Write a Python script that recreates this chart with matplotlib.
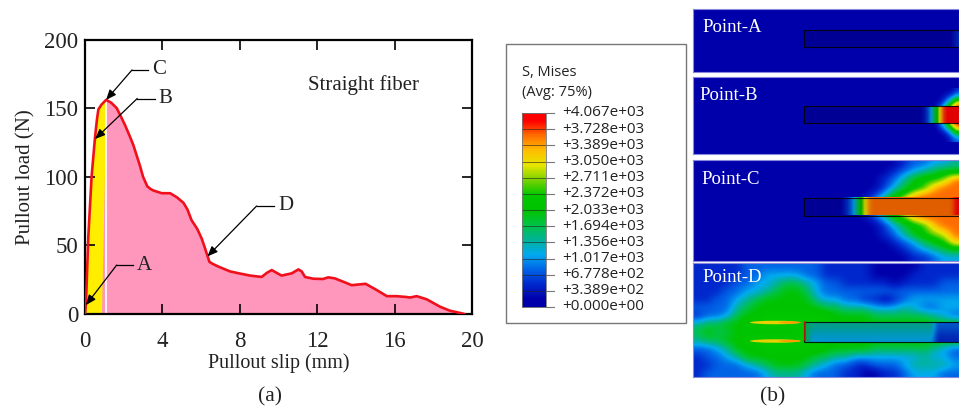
import numpy as np
import matplotlib
matplotlib.use("Agg")
import matplotlib.pyplot as plt
from matplotlib.colors import LinearSegmentedColormap
from matplotlib.patches import Rectangle, Ellipse

W, H = 959, 408
SERIF = "Liberation Serif"

# ---- chart data -------------------------------------------------------
slip = [0, 0.05, 0.17, 0.34, 0.52, 0.62, 0.69, 0.85, 1.09, 1.35, 1.64, 1.85, 2.07, 2.3, 2.5, 2.84, 3.0, 3.22, 3.4, 3.53, 3.97, 4.4,
        4.75, 5.09, 5.3, 5.5, 5.8, 6.03, 6.2, 6.43, 6.6, 6.9, 7.5, 8.0, 8.53, 9.13, 9.4, 9.65, 9.9, 10.16, 10.68, 11.03, 11.2, 11.37,
        11.8, 12.3, 12.57, 12.9, 13.35, 13.78, 14.5, 15.07, 15.6, 16.1, 16.6, 16.8, 17.14, 17.66,
        18.35, 18.86, 19.47, 19.6]
load = [0, 8, 56, 100, 129, 142, 149, 152.5, 156, 154, 150, 144, 137.6, 130, 123, 108, 100, 93, 91, 90, 88, 88,
        85, 81, 76, 68.5, 62, 55, 48, 38, 36.5, 34.5, 31, 29.5, 28, 27, 30, 32, 30, 28, 29.6, 32.5, 31, 27,
        25.7, 25.5, 26.7, 26, 23.5, 21, 22, 17.5, 13, 13, 12.4, 12, 13, 10.7,
        5.3, 2.4, 0.5, 0]
peak_slip = 1.09
x_ticks = [0, 4, 8, 12, 16, 20]
y_ticks = [0, 50, 100, 150, 200]
# label, tip, elbow, end of leader
callouts = [("A", (0.05, 6.5), (1.64, 35.7), (2.5, 35.7)),
            ("B", (0.52, 127.5), (2.7, 157), (3.6, 157)),
            ("C", (1.09, 156), (2.43, 177.8), (3.26, 177.8)),
            ("D", (6.33, 42), (8.87, 78.7), (9.77, 78.7))]

# ---- contour legend ---------------------------------------------------
legend_values = ["+4.067e+03", "+3.728e+03", "+3.389e+03", "+3.050e+03", "+2.711e+03",
                 "+2.372e+03", "+2.033e+03", "+1.694e+03", "+1.356e+03", "+1.017e+03",
                 "+6.778e+02", "+3.389e+02", "+0.000e+00"]
level_colors = [(0, 0, 170), (0, 40, 205), (0, 100, 230), (0, 170, 240), (0, 180, 150), (0, 195, 70),
                (0, 195, 0), (0, 200, 0), (120, 210, 0), (230, 230, 0), (255, 190, 0), (255, 110, 0), (255, 0, 0)]

# ---- stress fields, one base-13 level per character --------------------
field_b = ["00000001", "00000124", "0000136a", "000136bc", "000136cc",
           "000136cc", "0000247b", "00000136", "00000012"]
field_c = ["0000000122334", "0000001234566", "000001246778b", "0000013567abb", "00001367abbbb",
           "0001367bbbbbb", "0001367bbbbbb", "00001367abbbb",
           "0000013567abb", "000001246789b", "000000123567a", "0000000123456", "0000000011233"]
field_d = ["111112222222211111000001111", "111112233332211111000011111",
           "111122334554322111110111122", "111223345665322222222222222",
           "112234566666433221101233333", "222245666666655444333432233",
           "122356677777776666555555432", "455667777777776666666666666",
           "565566666667766666666666666", "455667777777776666666666666",
           "223466677777766666555555432", "122346666666554433333334332",
           "112223456665432211222344443", "122222234443222110011233322"]
strip_a = ["0000000000000000000000000000001"]
strip_b = ["000000000000000000000000136bccc"]
strip_c = ["000000001247abbbbbbbbbbbbbbbbbc"]
strip_d = ["54444444444444444444444444422222", "53333333333333333333333333311111"]

cmap = LinearSegmentedColormap.from_list("mises", [tuple(c / 255 for c in col) for col in level_colors])


def decode(rows):
    return np.array([[int(ch, 13) for ch in row] for row in rows], float)


fig = plt.figure(figsize=(W / 100, H / 100), dpi=100, facecolor="white")


def px_axes(x0, y0, x1, y1, **kw):
    return fig.add_axes([x0 / W, 1 - y1 / H, (x1 - x0) / W, (y1 - y0) / H], **kw)


# ---- (a) load-slip curve ------------------------------------------------
ax = px_axes(85, 39.5, 472, 314)
s = np.array(slip)
l = np.array(load)
ax.fill_between(s, 0, l, where=s <= peak_slip, color="#FFEE00", lw=0, interpolate=True)
ax.fill_between(s, 0, l, where=s >= peak_slip, color="#FF96BC", lw=0, interpolate=True)
ax.vlines(peak_slip, 0, max(load) - 1, color="white", lw=1.2)
ax.plot(s, l, color="#F0101C", lw=1.9, zorder=3)
ax.set_xlim(0, 20)
ax.set_ylim(0, 200)
ax.set_xticks(x_ticks)
ax.set_yticks(y_ticks)
ax.tick_params(direction="in", length=7.5, width=1.2, top=True, right=True, labelsize=16.5)
ax.tick_params(axis="x", pad=12.5)
ax.tick_params(axis="y", pad=5)
for lab in ax.get_xticklabels() + ax.get_yticklabels():
    lab.set_fontfamily(SERIF)
    lab.set_color("#222222")
for sp in ax.spines.values():
    sp.set_linewidth(1.6)
ax.set_xlabel("Pullout slip (mm)", family=SERIF, fontsize=14.4, color="#222222", labelpad=1)
ax.set_ylabel("Pullout load (N)", family=SERIF, fontsize=15, color="#222222", labelpad=6)
ax.text(11.55, 167, "Straight fiber", family=SERIF, fontsize=15, color="#222222", va="center")
for name, tip, elbow, end in callouts:
    ax.plot([elbow[0], end[0]], [elbow[1], end[1]], color="black", lw=0.9, zorder=4)
    ax.annotate("", xy=tip, xytext=elbow, zorder=5,
                arrowprops=dict(arrowstyle="-|>,head_length=0.6,head_width=0.25", color="black",
                                lw=0.9, shrinkA=0, shrinkB=0))
    ax.text(end[0] + 0.2, end[1], name, family=SERIF, fontsize=15, color="#222222", va="center")

# ---- overlay for free text and boxes -------------------------------------
ov = px_axes(0, 0, W, H, zorder=-1)
ov.axis("off")
ov.text(270, 397, "(a)", family=SERIF, fontsize=15.5, ha="center", va="center", color="#222222")
ov.text(773, 397, "(b)", family=SERIF, fontsize=15.5, ha="center", va="center", color="#222222")
ov.add_patch(Rectangle((506, 44), 180, 279, fc="white", ec="#777777", lw=1))
ov.text(522, 72, "S, Mises", family="Open Sans", fontsize=10.5, va="center", color="#222222")
ov.text(522, 92, "(Avg: 75%)", family="Open Sans", fontsize=10.5, va="center", color="#222222")

# ---- contour legend bar --------------------------------------------------
ov.imshow(np.arange(12, -1, -1).reshape(-1, 1), cmap=cmap, vmin=0, vmax=12, aspect="auto",
          extent=(522, 546, 307, 113), interpolation="bilinear", zorder=2)
ov.set_xlim(0, W)
ov.set_ylim(H, 0)
tick_y = np.linspace(113, 307, len(legend_values))
for yy, val in zip(tick_y, legend_values):
    ov.plot([522, 546], [yy, yy], color="#222222", lw=0.6, alpha=0.7, zorder=3)
    ov.plot([546, 554], [yy, yy], color="#777777", lw=0.8, zorder=3)
    ov.text(562.5, yy, val, family="Open Sans", fontsize=11, va="center", color="#222222")
ov.add_patch(Rectangle((522, 113), 24, 194, fc="none", ec="#777777", lw=0.6, zorder=4))


# ---- (b) stress panels ---------------------------------------------------
def panel(box, label, label_y, label_x, field, field_ext, strip, fib):
    x0, y0, x1, y1 = box
    a = px_axes(x0, y0, x1, y1)
    a.set_facecolor(tuple(c / 255 for c in level_colors[0]))
    if field is not None:
        a.imshow(decode(field), cmap=cmap, vmin=0, vmax=12, aspect="auto", extent=field_ext,
                 interpolation="bicubic", zorder=1)
    a.imshow(decode(strip), cmap=cmap, vmin=0, vmax=12, aspect="auto",
             extent=(804, x1, fib[1], fib[0]), interpolation="bicubic", zorder=2)
    a.add_patch(Rectangle((804, fib[0]), x1 - 804, fib[1] - fib[0], fc="black", ec="none", alpha=0.12, zorder=2.5))
    a.plot([x1, 804, 804, x1], [fib[0], fib[0], fib[1], fib[1]], color="black", lw=0.8, alpha=0.85, zorder=3)
    a.set_xlim(x0, x1)
    a.set_ylim(y1, y0)
    a.set_xticks([])
    a.set_yticks([])
    for sp in a.spines.values():
        sp.set_color("#8888DD")
        sp.set_linewidth(0.8)
    a.text(label_x, label_y, label, family=SERIF, fontsize=13.5, color="white", va="center", zorder=5)
    return a


panel((693, 9, 959, 72), "Point-A", 28, 702, None, None, strip_a, (30, 47))
panel((693, 77, 959, 154), "Point-B", 95, 699, field_b, (919, 959, 142, 88), strip_b, (106, 123))
panel((693, 160, 959, 261), "Point-C", 179, 701, field_c, (829, 959, 261, 160), strip_c, (198, 215.5))
pd_ax = panel((693, 263, 959, 377), "Point-D", 278, 702, field_d, (693, 959, 377, 263), strip_d, (322, 342))
for yy in (322.5, 341):
    pd_ax.add_patch(Ellipse((775, yy), 50, 3.5, fc="#E8D000", ec="none", zorder=4))
    pd_ax.add_patch(Ellipse((790, yy), 22, 2.2, fc="#FF9A00", ec="none", zorder=4))
pd_ax.plot([805, 805], [322, 340], color="#D01010", lw=1.2, zorder=5)

fig.savefig("out.png", dpi=100)
